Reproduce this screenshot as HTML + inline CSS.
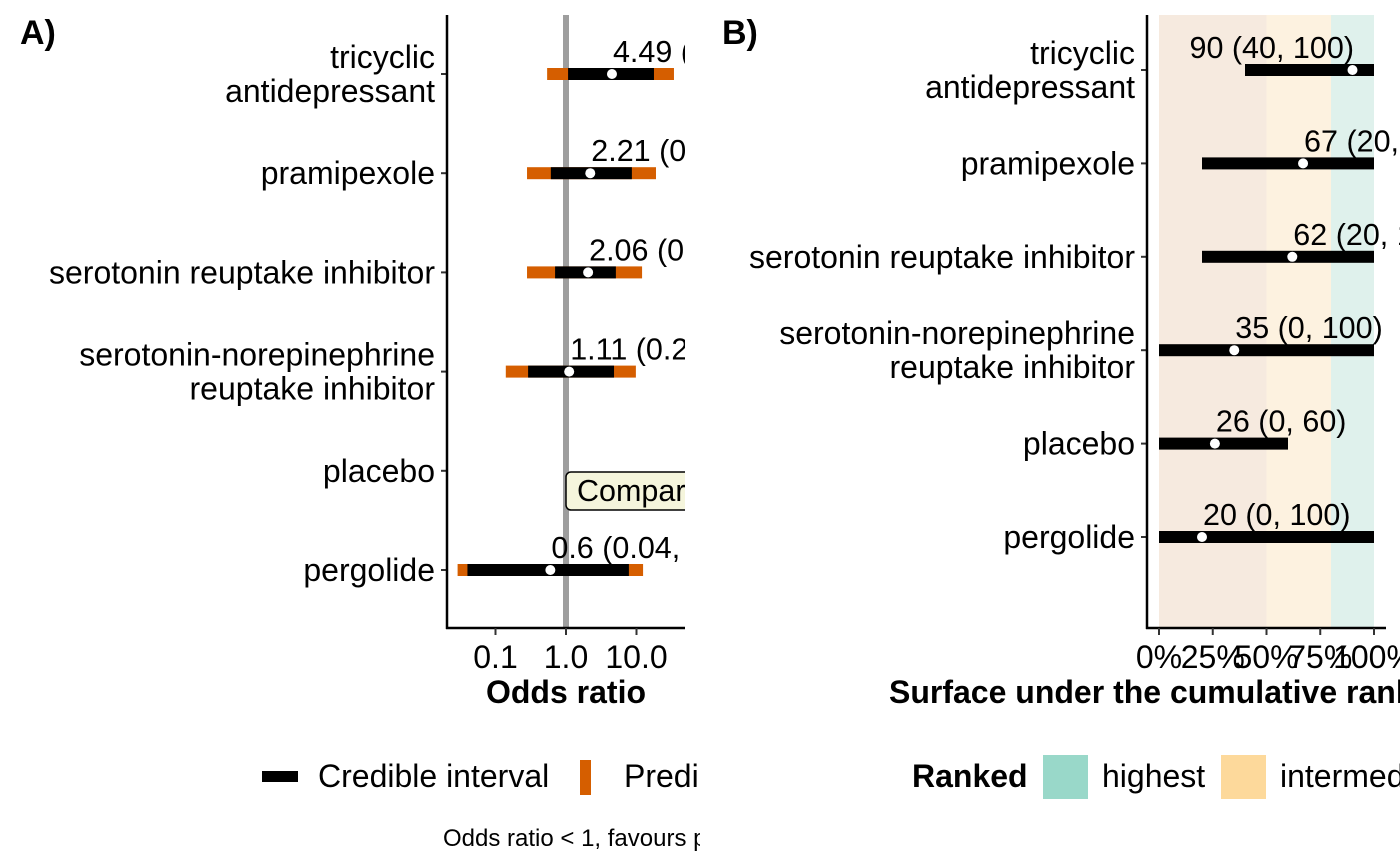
<!DOCTYPE html>
<html><head><meta charset="utf-8"><style>
html,body{margin:0;padding:0;background:#fff;}
svg{display:block;font-family:"Liberation Sans",Arial,sans-serif;}
</style></head><body>
<svg id="chart" width="1400" height="866" viewBox="0 0 1400 866">
<defs>
<clipPath id="clipA"><rect x="0" y="0" width="685" height="866"/></clipPath>
<clipPath id="clipAcap"><rect x="0" y="0" width="700" height="866"/></clipPath>
</defs>
<text x="20" y="44" font-size="34" font-weight="bold">A)</text>
<text x="722" y="44" font-size="34" font-weight="bold">B)</text>
<g id="panelA"></g>
<g id="panelB"></g>
<g clip-path="url(#clipAcap)">
  <rect x="262" y="771" width="36" height="11" fill="#000"/>
  <text x="318" y="787" font-size="32">Credible interval</text>
  <rect x="580" y="760" width="11" height="35" fill="#d55e00"/>
  <text x="624" y="787" font-size="32">Prediction interval</text>
  <text x="443" y="846" font-size="24">Odds ratio &lt; 1, favours placebo</text>
</g>
<g>
  <text x="912" y="787" font-size="32" font-weight="bold">Ranked</text>
  <rect x="1043" y="755" width="45" height="44" fill="#99d8c9"/>
  <text x="1102" y="787" font-size="32">highest</text>
  <rect x="1221" y="755" width="45" height="44" fill="#fdd99b"/>
  <text x="1280" y="787" font-size="32">intermediate</text>
</g>
</svg>
<script>
// Panel A data
const catsA = ["tricyclic|antidepressant","pramipexole","serotonin reuptake inhibitor","serotonin-norepinephrine|reuptake inhibitor","placebo","pergolide"];
const orEst = [4.49, 2.21, 2.06, 1.11, null, 0.6];
const ciLo = [1.07, 0.61, 0.70, 0.29, null, 0.04];
const ciHi = [17.7, 8.6, 5.1, 4.8, null, 7.8];
const piLo = [0.54, 0.28, 0.28, 0.14, null, 0.029];
const piHi = [34, 18.9, 12.0, 9.8, null, 12.4];
const labelsA = ["4.49 (1.07, 17.7)","2.21 (0.61, 8.6)","2.06 (0.70, 5.1)","1.11 (0.29, 4.8)","","0.6 (0.04, 7.8)"];
const ticksA = [0.1, 1, 10];
const tickLabA = ["0.1","1.0","10.0"];
// Panel B data
const catsB = ["tricyclic|antidepressant","pramipexole","serotonin reuptake inhibitor","serotonin-norepinephrine|reuptake inhibitor","placebo","pergolide"];
const sucra = [90, 67, 62, 35, 26, 20];
const sLo = [40, 20, 20, 0, 0, 0];
const sHi = [100, 100, 100, 100, 60, 100];
const labelsB = ["90 (40, 100)","67 (20, 100)","62 (20, 100)","35 (0, 100)","26 (0, 60)","20 (0, 100)"];
const bandLo = [0, 50, 80];
const bandHi = [50, 80, 100];
const bandCol = ["#f6eadf","#fdf2e0","#dff1ec"];
const ticksB = [0, 25, 50, 75, 100];

const NS = "http://www.w3.org/2000/svg";
const FS = 32;
const LFS = 30.5;
function mk(tag, attrs, parent){const e=document.createElementNS(NS,tag);for(const k in attrs)e.setAttribute(k,attrs[k]);parent.appendChild(e);return e;}

// Panel A
const A = document.getElementById('panelA');
const xA = v => 566 + 70.5*Math.log10(v);
const yA = i => 74 + i*99.2;
const gA = mk('g',{'clip-path':'url(#clipA)'},A);
const ref = mk('line',{x1:xA(1),x2:xA(1),y1:15,y2:628,stroke:'#9e9e9e','stroke-width':6},gA);


catsA.forEach((c,i)=>{
  const y=yA(i);
  if(orEst[i]!==null){
    const p=mk('rect',{x:xA(piLo[i]),y:y-6,width:xA(piHi[i])-xA(piLo[i]),height:12,fill:'#d55e00'},gA);
    
    
    const b=mk('rect',{x:xA(ciLo[i]),y:y-6,width:xA(ciHi[i])-xA(ciLo[i]),height:12,fill:'#000'},gA);
    
    
    const d=mk('circle',{cx:xA(orEst[i]),cy:y,r:5,fill:'#fff'},gA);
    
    
    const t=mk('text',{x:xA(orEst[i])+1,y:y-12,'font-size':LFS},gA);
    t.textContent=labelsA[i];
    
    
  }
  const parts=c.split('|');
  const tl=mk('text',{x:435,'text-anchor':'end','font-size':FS},A);
  
  
  parts.forEach((s,k)=>{const ts=mk('tspan',{x:435,y:y+11+(k-(parts.length-1)/2)*34},tl);ts.textContent=s;});
  mk('line',{x1:441,x2:447,y1:y,y2:y,stroke:'#333','stroke-width':2},A);
});
const cb=mk('rect',{x:566,y:472,width:130,height:38,rx:5,fill:'#f5f5dc',stroke:'#000','stroke-width':1.5},gA);


const ct=mk('text',{x:577,y:501,'font-size':LFS},gA);ct.textContent='Comparator';


mk('line',{x1:447,x2:447,y1:15,y2:629,stroke:'#000','stroke-width':2.5},A);
mk('line',{x1:446,x2:685,y1:628,y2:628,stroke:'#000','stroke-width':2.5},A);
ticksA.forEach((v,i)=>{
  mk('line',{x1:xA(v),x2:xA(v),y1:628,y2:635,stroke:'#333','stroke-width':2},A);
  const t=mk('text',{x:xA(v),y:668,'text-anchor':'middle','font-size':FS},A);t.textContent=tickLabA[i];
  
  
});
const xt=mk('text',{x:566,y:703,'text-anchor':'middle','font-size':FS,'font-weight':'bold'},A);xt.textContent='Odds ratio';



// Panel B
const B=document.getElementById('panelB');
const xB=v=>1159+2.15*v;
const yB=i=>70+i*93.4;
bandLo.forEach((l,i)=>{
  const r=mk('rect',{x:xB(l),y:15,width:xB(bandHi[i])-xB(l),height:613,fill:bandCol[i]},B);
  
  
});
catsB.forEach((c,i)=>{
  const y=yB(i);
  const b=mk('rect',{x:xB(sLo[i]),y:y-6,width:xB(sHi[i])-xB(sLo[i]),height:12,fill:'#000'},B);
  
  
  const d=mk('circle',{cx:xB(sucra[i]),cy:y,r:5,fill:'#fff'},B);
  
  
  let lx=xB(sucra[i])+1;
  if(sucra[i]>85) lx=xB(sucra[i])-163;
  const t=mk('text',{x:lx,y:y-12,'font-size':LFS},B);t.textContent=labelsB[i];
  
  
  const parts=c.split('|');
  const tl=mk('text',{x:1135,'text-anchor':'end','font-size':FS},B);
  
  
  parts.forEach((s,k)=>{const ts=mk('tspan',{x:1135,y:y+11+(k-(parts.length-1)/2)*34},tl);ts.textContent=s;});
  mk('line',{x1:1141,x2:1147,y1:y,y2:y,stroke:'#333','stroke-width':2},B);
});
mk('line',{x1:1147,x2:1147,y1:15,y2:629,stroke:'#000','stroke-width':2.5},B);
mk('line',{x1:1146,x2:1386,y1:628,y2:628,stroke:'#000','stroke-width':2.5},B);
ticksB.forEach(v=>{
  mk('line',{x1:xB(v),x2:xB(v),y1:628,y2:635,stroke:'#333','stroke-width':2},B);
  const t=mk('text',{x:xB(v),y:668,'text-anchor':'middle','font-size':FS},B);t.textContent=v+'%';
  
  
});
const xtb=mk('text',{x:889,y:703,'font-size':FS,'font-weight':'bold'},B);xtb.textContent='Surface under the cumulative ranking curve';


</script>
</body></html>
